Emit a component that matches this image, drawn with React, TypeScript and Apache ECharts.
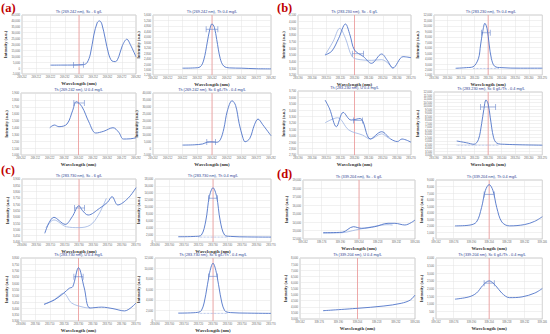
import React, { useEffect, useRef } from "react";
import * as echarts from "echarts";

type P = [number, number][];

// x values: offset from the analytical line in pm; y values: intensity (a.u.)
const a1Main: P = [[-20,2500],[-12,2550],[-4,2600],[3,2900],[5.6,4500],[8,12000],[10.4,28000],[12.8,38500],[14.4,40000],[16,37500],[18.4,25000],[20.8,12000],[23.2,6000],[25.6,5500],[28,10000],[30.4,19000],[33.6,24500],[36,20000],[40,9500]];
const a1Win: P = [[-4,2600],[3,2900]];
const a2Main: P = [[-20,1700],[-12,1720],[-8,1800],[-5.6,2300],[-3.2,3600],[-1.6,4500],[0,4950],[1.6,4700],[3.2,3800],[5.6,2400],[8,1850],[12,1720],[20,1700],[30,1660],[40,1650]];
const a2Win: P = [[-4,4550],[4,4550]];
const a3Main: P = [[-20,1396],[-16.8,1435],[-13.6,1411],[-8,1450],[-4,1650],[-1.6,1774],[2.4,1701],[7.2,1480],[12,1319],[17.6,1345],[24,1396],[28,1330],[31.2,1232],[36,1235],[40,1250]];
const a3Win: P = [[-3.2,1755],[4,1755]];
const a4Main: P = [[-20,2200],[-12,2400],[-6.4,3000],[-3.2,4300],[0,4500],[3.2,4200],[5.6,6000],[8,14000],[10.4,27000],[13.6,34400],[16,31000],[18.4,18000],[20.8,8000],[22.4,4600],[25.6,7000],[28.8,17000],[31.2,21100],[34.4,17000],[40,9000]];
const a4Win: P = [[-3.5,4500],[2.5,4500]];

const b1Main: P = [[-20.8,3500],[-16,3560],[-11.2,3750],[-6.4,3965],[-3.2,3800],[0,3575],[6.4,3475],[12,3375],[19.2,3515],[23.2,3420],[27.2,3305],[34.4,3475],[40,3460]];
const b1Second: P = [[-20.8,3500],[-15.2,3700],[-10.4,3900],[-6.4,3750],[-1.6,3475],[4,3430],[12,3420],[19.2,3430],[27.2,3300]];
const b1Win: P = [[-1.6,3520],[6.4,3520]];
const b2Main: P = [[-24,2230],[-16,2350],[-11.2,2500],[-7.2,4000],[-5.6,6500],[-4,9000],[-2.4,10480],[-0.8,9500],[0.8,6500],[2.4,4000],[4.8,2600],[9.6,2350],[24,2250],[40,2250]];
const b2Base: P = [[-11.2,2200],[8,2200]];
const b2Win: P = [[-5,8750],[1.5,8750]];
const b3A: P = [[-20.8,3558],[-17.6,3420],[-12.8,3142],[-8,3366],[-2.4,3246],[4,3270],[11.2,2950],[19.2,3064],[25.6,2950],[30.4,2910],[33.6,2950],[40,2900]];
const b3B: P = [[-20.8,3204],[-12,3282],[-4,3090],[5.6,3012],[11.2,2950],[19.2,3030],[24,2960]];
const b3Win: P = [[-0.8,3240],[5.6,3240]];
const b4Main: P = [[-23.2,5000],[-16,4750],[-10.4,4530],[-7.2,5200],[-4.8,7500],[-3.2,9500],[-1.6,10860],[0,10300],[1.6,8300],[4,5500],[6.4,4700],[12,4530],[40,4400]];
const b4Base: P = [[-23.2,4400],[8,4400]];
const b4Win: P = [[-5.6,9860],[5.6,9860]];

const c1Main: P = [[-24,3469],[-17.6,3596],[-9.6,3540],[-4.8,3600],[0,3688],[2.4,3650],[6.4,3614],[14.4,3667],[20,3715],[23.2,3760],[27.2,3694],[34.4,3747],[40,3831]];
const c1Second: P = [[-23.2,3514],[-17.6,3575],[-8.8,3521],[0,3514],[8,3535],[13.6,3614],[19.2,3747]];
const c1Win: P = [[-3.2,3670],[4,3670]];
const c2Main: P = [[-24,1500],[-12,1600],[-8,2000],[-5,6000],[-2.5,13000],[0,15500],[2.5,13000],[5,6000],[8,2000],[12,1600],[24,1450],[40,1400]];
const c2Base: P = [[-10,1400],[10,1400]];
const c2Win: P = [[-3,12500],[3,12500]];
const c3Main: P = [[-24,3432],[-16.8,3467],[-10.4,3520],[-6.4,3560],[-4,3572],[0,3723],[4,3562],[8,3403],[16,3410],[24,3398],[32,3380],[40,3443]];
const c3Second: P = [[-24,3432],[-16.8,3470],[-10.4,3520],[-4.8,3443],[3.2,3410],[8,3403]];
const c3Win: P = [[-3.2,3652],[3.2,3652]];
const c4Main: P = [[-24,1500],[-12,1600],[-8,2000],[-5,5000],[-2.5,9000],[0,11000],[2.5,9000],[5,5000],[8,2000],[12,1600],[24,1500],[40,1450]];
const c4Base: P = [[-10,1450],[10,1450]];
const c4Win: P = [[-3,8500],[3,8500]];

const d1Main: P = [[-26.9,12747],[-12.6,12800],[-4.2,13460],[1.7,13270],[11.8,13460],[21.8,13860],[26.9,13860],[34.4,13660],[42,14250]];
const d1Second: P = [[-26.9,12700],[-12.6,12750],[-2.5,13070],[10.1,13460],[21.8,13700],[25.2,13650]];
const d2Main: P = [[-27,2000],[-16,2100],[-10,2600],[-6,4800],[-3,7400],[0,8300],[3,7400],[6,4800],[10,2600],[16,2000],[28,2200],[36,2700],[42,3400]];
const d2Win: P = [[-4,6800],[4,6800]];
const d3Main: P = [[-25.2,3680],[0,3877],[19.3,4066],[31.9,4287],[38.6,4557],[42,4967]];
const d4Main: P = [[-27,1300],[-16,1450],[-10,1700],[-5,2200],[0,2500],[5,2200],[10,1700],[16,1400],[26,1450],[36,1700],[42,2000]];
const d4Win: P = [[-4,2350],[4,2350]];

const LINE_AT: number[] = [0]; // analytical line (offset 0)
const LETTERS = ["(a)", "(b)", "(c)", "(d)"];

interface Panel {
  title: string; nm: number;
  box: [number, number, number, number];
  x: [number, number, number]; y: [number, number, number];
  main: P; second?: P; base?: P; win?: P;
}

const PANELS: Panel[] = [
  { title: "Th (269.242 nm), Sc - 6 g/L", nm: 269.242, box: [22, 15, 114, 59], x: [-40, 40, 10], y: [-5000, 45000, 5000], main: a1Main, win: a1Win },
  { title: "Th (269.242 nm), Th 0.4 mg/L", nm: 269.242, box: [153, 15, 118, 60], x: [-40, 40, 10], y: [1200, 5600, 400], main: a2Main, win: a2Win },
  { title: "Th (269.242 nm), U 0.4 mg/L", nm: 269.242, box: [21, 93, 115, 62], x: [-40, 40, 10], y: [1000, 1900, 100], main: a3Main, win: a3Win },
  { title: "Th (269.242 nm), Sc 6 g/L/Th - 0.4 mg/L", nm: 269.242, box: [153, 93, 118, 62], x: [-40, 40, 10], y: [-5000, 40000, 5000], main: a4Main, win: a4Win },
  { title: "Th (283.230 nm), Sc - 6 g/L", nm: 283.230, box: [298, 15, 113, 60], x: [-40, 40, 10], y: [3200, 4100, 100], main: b1Main, second: b1Second, win: b1Win },
  { title: "Th (283.230 nm), Th 0.4 mg/L", nm: 283.230, box: [434, 15, 114, 60], x: [-40, 40, 10], y: [1000, 12000, 1000], main: b2Main, base: b2Base, win: b2Win },
  { title: "Th (283.230 nm), U 0.4 mg/L", nm: 283.230, box: [298, 91, 113, 64], x: [-40, 40, 10], y: [2700, 3700, 100], main: b3A, second: b3B, win: b3Win },
  { title: "Th (283.230 nm), Sc 6 g/L/Th - 0.4 mg/L", nm: 283.230, box: [434, 92, 114, 63], x: [-40, 40, 10], y: [3000, 12000, 500], main: b4Main, base: b4Base, win: b4Win },
  { title: "Th (283.730 nm), Sc - 6 g/L", nm: 283.730, box: [22, 179, 114, 63], x: [-40, 40, 10], y: [3400, 3900, 50], main: c1Main, second: c1Second, win: c1Win },
  { title: "Th (283.730 nm), Th 0.4 mg/L", nm: 283.730, box: [155, 179, 116, 63], x: [-40, 40, 10], y: [0, 18000, 2000], main: c2Main, base: c2Base, win: c2Win },
  { title: "Th (283.730 nm), U 0.4 mg/L", nm: 283.730, box: [21, 258, 115, 63], x: [-40, 40, 10], y: [3300, 3800, 50], main: c3Main, second: c3Second, win: c3Win },
  { title: "Th (283.730 nm), Sc 6 g/L/Th - 0.4 mg/L", nm: 283.730, box: [155, 258, 116, 63], x: [-40, 40, 10], y: [0, 12000, 2000], main: c4Main, base: c4Base, win: c4Win },
  { title: "Th (339.204 nm), Sc - 6 g/L", nm: 339.204, box: [303, 180, 112, 59], x: [-42, 42, 14], y: [12000, 19000, 1000], main: d1Main, second: d1Second },
  { title: "Th (339.204 nm), Th 0.4 mg/L", nm: 339.204, box: [436, 180, 112, 59], x: [-42, 42, 14], y: [0, 9000, 1000], main: d2Main, win: d2Win },
  { title: "Th (339.204 nm), U 0.4 mg/L", nm: 339.204, box: [300, 258, 115, 61], x: [-42, 42, 14], y: [3000, 8000, 500], main: d3Main },
  { title: "Th (339.204 nm), Sc 6 g/L/Th - 0.4 mg/L", nm: 339.204, box: [436, 258, 112, 61], x: [-42, 42, 14], y: [0, 4000, 500], main: d4Main, win: d4Win },
];

const LETTER_POS: [number, number][] = [[1, 1], [277, 1], [1, 163], [277, 167]];

const BLUE = "#4f74c8";
const LIGHT = "#9cb2e2";
const RED = "#ec8a8a";

export default function App() {
  const ref = useRef<HTMLDivElement>(null);
  useEffect(() => {
    if (!ref.current) return;
    const chart = echarts.init(ref.current, undefined, { renderer: "svg" });
    const grid: any[] = [];
    const xAxis: any[] = [];
    const yAxis: any[] = [];
    const series: any[] = [];
    const graphic: any[] = [];
    PANELS.forEach((p, i) => {
      const [l, t, w, h] = p.box;
      grid.push({ left: l, top: t, width: w, height: h, show: true, borderColor: "#a8a8a8", borderWidth: 0.6, backgroundColor: "#fff" });
      xAxis.push({
        type: "value", gridIndex: i, min: p.x[0], max: p.x[1], interval: p.x[2],
        name: "Wavelength (nm)", nameLocation: "middle", nameGap: 7,
        nameTextStyle: { fontSize: 4.8, fontWeight: "bold", fontFamily: "Liberation Serif", color: "#333" },
        axisLine: { show: false, onZero: false }, axisTick: { show: false },
        axisLabel: { fontSize: 2.6, margin: 2, color: "#666", formatter: (v: number) => (p.nm + v / 1000).toFixed(3) },
        splitLine: { show: true, lineStyle: { color: "#e3e3e3", width: 0.5 } },
      });
      yAxis.push({
        type: "value", gridIndex: i, min: p.y[0], max: p.y[1], interval: p.y[2],
        name: "Intensity (a.u.)", nameLocation: "middle", nameGap: 13, nameRotate: 90,
        nameTextStyle: { fontSize: 4.4, fontWeight: "bold", fontFamily: "Liberation Serif", color: "#333" },
        axisLine: { show: false, onZero: false }, axisTick: { show: false },
        axisLabel: { fontSize: 2.8, margin: 2, color: "#666", formatter: (v: number) => v.toLocaleString("en-US") },
        splitLine: { show: true, lineStyle: { color: "#e3e3e3", width: 0.5 } },
      });
      LINE_AT.forEach((x0) => {
        series.push({ type: "line", xAxisIndex: i, yAxisIndex: i, data: [[x0, p.y[0]], [x0, p.y[1]]], showSymbol: false, lineStyle: { color: RED, width: 0.7 }, silent: true, z: 1 });
      });
      series.push({ type: "line", xAxisIndex: i, yAxisIndex: i, data: p.main, smooth: 0.35, showSymbol: false, lineStyle: { color: BLUE, width: 0.9 }, itemStyle: { color: BLUE }, silent: true, z: 3 });
      if (p.second) series.push({ type: "line", xAxisIndex: i, yAxisIndex: i, data: p.second, smooth: 0.35, showSymbol: false, lineStyle: { color: LIGHT, width: 0.8 }, silent: true, z: 2 });
      if (p.base) series.push({ type: "line", xAxisIndex: i, yAxisIndex: i, data: p.base, showSymbol: false, lineStyle: { color: "#7d97d4", width: 0.7, type: "dotted" }, silent: true, z: 2 });
      if (p.win) series.push({ type: "line", xAxisIndex: i, yAxisIndex: i, data: p.win, showSymbol: true, symbol: "rect", symbolSize: [0.6, 6], itemStyle: { color: "#6a86cc" }, lineStyle: { color: "#6a86cc", width: 0.6 }, silent: true, z: 4 });
      graphic.push({ type: "text", x: l + w / 2, y: t - 3.5, style: { text: p.title, fontSize: 3.8, fill: "#2e3f92", fontFamily: "Liberation Sans", align: "center", verticalAlign: "middle" }, silent: true });
    });
    LETTERS.forEach((s, i) => {
      graphic.push({ type: "text", x: LETTER_POS[i][0], y: LETTER_POS[i][1], style: { text: s, fontSize: 12.5, fontWeight: "bold", fontFamily: "Liberation Serif", fill: "#c00000" }, silent: true });
    });
    chart.setOption({ animation: false, backgroundColor: "#fff", grid, xAxis, yAxis, series, graphic });
    return () => chart.dispose();
  }, []);
  return <div ref={ref} style={{ position: "fixed", left: 0, top: 0, width: 550, height: 334 }} />;
}
